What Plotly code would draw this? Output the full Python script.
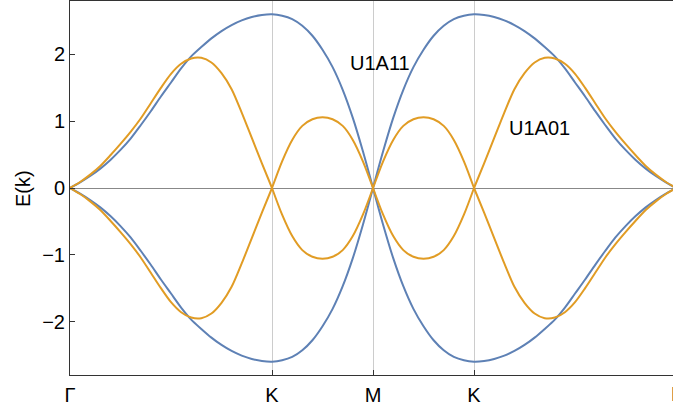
import plotly.graph_objects as go

# path coordinate along Γ-K-M-K-Γ (Γ=0, K=2, M=3, K=4, Γ=6)
k = [0.0, 0.1, 0.2, 0.3, 0.4, 0.5, 0.6, 0.7, 0.8, 0.9,
     1.0, 1.1, 1.2, 1.3, 1.4, 1.5, 1.6, 1.7, 1.8, 1.9,
     2.0, 2.1, 2.2, 2.3, 2.4, 2.5, 2.6, 2.7, 2.8, 2.9,
     3.0, 3.1, 3.2, 3.3, 3.4, 3.5, 3.6, 3.7, 3.8, 3.9,
     4.0, 4.1, 4.2, 4.3, 4.4, 4.5, 4.6, 4.7, 4.8, 4.9,
     5.0, 5.1, 5.2, 5.3, 5.4, 5.5, 5.6, 5.7, 5.8, 5.9, 6.0]

# U1A11 upper band (blue)
u1a11 = [0.0, 0.085, 0.18, 0.29, 0.42, 0.57, 0.74, 0.94, 1.15, 1.37,
         1.58, 1.79, 1.97, 2.11, 2.24, 2.35, 2.44, 2.51, 2.56, 2.59,
         2.60, 2.58, 2.53, 2.43, 2.28, 2.07, 1.81, 1.47, 1.05, 0.55,
         0.0, 0.55, 1.05, 1.47, 1.81, 2.07, 2.28, 2.43, 2.53, 2.58,
         2.60, 2.59, 2.56, 2.51, 2.44, 2.35, 2.24, 2.11, 1.97, 1.79,
         1.58, 1.37, 1.15, 0.94, 0.74, 0.57, 0.42, 0.29, 0.18, 0.085, 0.0]

# U1A01 upper band (orange)
u1a01 = [0.0, 0.09, 0.20, 0.33, 0.49, 0.66, 0.84, 1.04, 1.27, 1.50,
         1.71, 1.86, 1.94, 1.95, 1.88, 1.72, 1.48, 1.13, 0.75, 0.37,
         0.0, 0.40, 0.72, 0.93, 1.03, 1.06, 1.03, 0.93, 0.72, 0.40,
         0.0, 0.40, 0.72, 0.93, 1.03, 1.06, 1.03, 0.93, 0.72, 0.40,
         0.0, 0.37, 0.75, 1.13, 1.48, 1.72, 1.88, 1.95, 1.94, 1.86,
         1.71, 1.50, 1.27, 1.04, 0.84, 0.66, 0.49, 0.33, 0.20, 0.09, 0.0]

# indices where the curves have cusps
u1a11_breaks = [0, 30, 60]
u1a01_breaks = [0, 20, 30, 40, 60]

x_ticks = [0, 2, 3, 4]
x_ticktext = ["Γ", "K", "M", "K"]
x_end = 6
x_end_label = "Γ"
y_ticks = [-2, -1, 0, 1, 2]
y_ticktext = ["\u22122", "\u22121", "0", "1", "2"]

BLUE = "#5E81B5"
ORANGE = "#E19C24"
FONT = "Liberation Sans, Arial, sans-serif"

x_max = 5.97
y_rng = [-2.8, 2.8]

fig = go.Figure()
for vals, breaks, color in [(u1a11, u1a11_breaks, BLUE), (u1a01, u1a01_breaks, ORANGE)]:
    for sign in (1, -1):
        for a, b in zip(breaks[:-1], breaks[1:]):
            fig.add_trace(go.Scatter(
                x=k[a:b + 1], y=[sign * v for v in vals[a:b + 1]],
                mode="lines", line=dict(color=color, width=2, shape="spline", smoothing=0.8),
                hoverinfo="skip", showlegend=False, cliponaxis=True))

fig.update_layout(
    width=673, height=409,
    margin=dict(l=70, r=0, t=1, b=34),
    paper_bgcolor="white", plot_bgcolor="white",
    font=dict(family=FONT, size=20, color="black"),
    xaxis=dict(range=[0, x_max], tickmode="array", tickvals=x_ticks, ticktext=x_ticktext,
               ticks="inside", ticklen=5, tickcolor="#333", showline=True, linecolor="#333",
               linewidth=1, mirror=True, showgrid=True, gridcolor="#cccccc", gridwidth=1,
               zeroline=False, tickfont=dict(size=20), automargin=False,
               ticklabelstandoff=2),
    yaxis=dict(range=y_rng, tickmode="array", tickvals=y_ticks, ticktext=y_ticktext,
               ticks="inside", ticklen=5, tickcolor="#333", showline=True, linecolor="#333",
               linewidth=1, mirror=False, showgrid=False, zeroline=True,
               zerolinecolor="#888888", zerolinewidth=1, tickfont=dict(size=20),
               automargin=False),
    annotations=[
        dict(text="U1A11", x=3.07, y=1.876, xref="x", yref="y", showarrow=False,
             font=dict(size=20)),
        dict(text="U1A01", x=4.65, y=0.90, xref="x", yref="y", showarrow=False,
             font=dict(size=20)),
        dict(text="E(k)", x=-0.078, y=0.5, xref="paper", yref="paper", textangle=-90,
             xanchor="center", yanchor="middle", showarrow=False, font=dict(size=20)),
        dict(text=x_end_label, x=x_end / x_max, y=0, xref="paper", yref="paper",
             xanchor="center", yanchor="top", yshift=-6, showarrow=False,
             font=dict(size=20)),
    ],
)

fig.write_html("out.html", config={"displayModeBar": False},
               post_script="document.body.style.margin='0';document.body.style.overflow='hidden';")
